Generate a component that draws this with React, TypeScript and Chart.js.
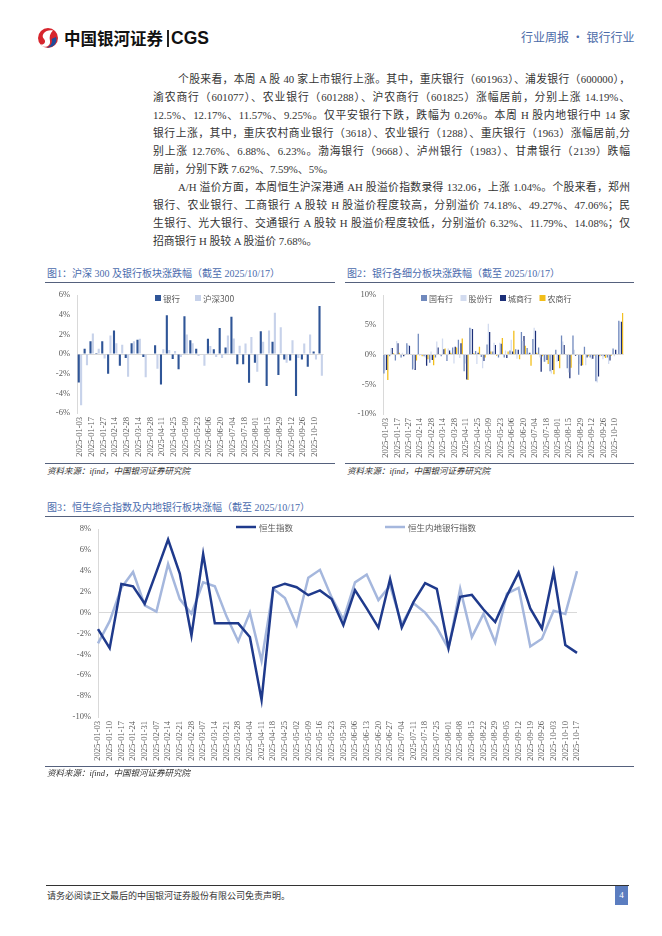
import React, { useEffect, useRef } from "react";
import { Chart, registerables } from "chart.js";

Chart.register(...registerables);

// ---------- data ----------
const aShareWeeks = [
  "2025-01-03", "2025-01-10", "2025-01-17", "2025-01-24", "2025-01-27", "2025-02-07", "2025-02-14",
  "2025-02-21", "2025-02-28", "2025-03-07", "2025-03-14", "2025-03-21", "2025-03-28", "2025-04-03",
  "2025-04-11", "2025-04-18", "2025-04-25", "2025-04-30", "2025-05-09", "2025-05-16", "2025-05-23",
  "2025-05-30", "2025-06-06", "2025-06-13", "2025-06-20", "2025-06-27", "2025-07-04", "2025-07-11",
  "2025-07-18", "2025-07-25", "2025-08-01", "2025-08-08", "2025-08-15", "2025-08-22", "2025-08-29",
  "2025-09-05", "2025-09-12", "2025-09-19", "2025-09-26", "2025-09-30", "2025-10-10", "2025-10-17",
];

const hkWeeks = [
  "2025-01-03", "2025-01-10", "2025-01-17", "2025-01-24", "2025-01-31", "2025-02-07", "2025-02-14",
  "2025-02-21", "2025-02-28", "2025-03-07", "2025-03-14", "2025-03-21", "2025-03-28", "2025-04-04",
  "2025-04-11", "2025-04-18", "2025-04-25", "2025-05-02", "2025-05-09", "2025-05-16", "2025-05-23",
  "2025-05-30", "2025-06-06", "2025-06-13", "2025-06-20", "2025-06-27", "2025-07-04", "2025-07-11",
  "2025-07-18", "2025-07-25", "2025-08-01", "2025-08-08", "2025-08-15", "2025-08-22", "2025-08-29",
  "2025-09-05", "2025-09-12", "2025-09-19", "2025-09-26", "2025-10-03", "2025-10-10", "2025-10-17",
];

// Fig.1 weekly change, %
const bankWeekly = [
  -2.9, 0.55, 1.3, 0.1, 1.3, -2.0, 2.4, -1.2, -0.4, 1.1, 1.45, -0.3, 0.05, 0.9,
  -3.1, 3.95, -0.5, -1.55, 3.85, 1.4, 0.55, 0.05, 1.55, 0.5, 2.65, 0.66, 3.8, -1.05,
  -1.05, -2.92, -0.89, 2.33, -3.25, 1.25, -2.13, -0.56, -0.66, -4.26, -0.56, -1.28, 0.25, 4.89,
];
const csi300Weekly = [
  -5.2, -1.15, 2.1, 0.55, -0.45, 1.9, 1.1, 0.95, -2.3, 1.3, 1.55, -2.35, -0.05, -1.5,
  0.5, 0.4, 0.3, -0.3, 2.0, 1.1, -0.2, -1.2, 0.82, -0.3, -0.4, 1.9, 1.57, 0.85,
  1.08, 1.74, -1.8, 1.25, 2.4, 4.2, 2.72, -0.89, 1.41, -0.4, 1.08, 2.0, -0.56, -2.2,
];

// Fig.2 weekly change by bank type, %
const stateOwned = [
  -3.2, -0.3, -1.0, -0.5, 1.9, -2.5, 3.5, -0.3, -1.4, -0.5, -0.3, -1.1, 1.2, 2.5,
  -2.8, 4.5, 0.6, -0.4, 1.7, 0.5, -0.5, -0.5, 0.7, 0.9, 3.8, 1.1, 2.6, 1.2,
  -1.2, -2.8, 0.8, 3.2, -2.3, 3.2, -3.4, 1.3, -0.5, -4.5, -0.2, -0.5, 1.0, 5.7,
];
const jointStock = [
  -2.7, 1.0, 2.3, 0.3, 1.6, -2.4, -0.2, -0.5, 0.5, 2.2, 2.7, 1.0, -1.5, -0.6,
  -1.5, 4.4, -1.6, -2.3, 5.2, 2.0, 2.0, 0.7, 2.5, -0.7, 2.3, 0.3, 4.5, -0.5,
  -1.2, -3.2, -1.2, 2.2, -3.0, 0.8, -1.6, -1.8, -0.8, -4.7, -0.8, -1.6, -0.3, 5.5,
];
const cityCommercial = [
  -2.6, 1.1, 1.9, -0.3, 1.5, -2.6, 0.1, -1.9, -0.9, 1.2, 0.9, 0.7, 1.3, 1.9,
  -4.2, 4.3, 0.3, -1.1, 3.8, 1.6, 1.8, -0.6, 0.5, 0.8, 3.1, 0.3, 4.0, -2.9,
  -0.9, -2.6, -1.1, 1.6, -4.0, -0.2, -1.9, -0.5, -0.7, -3.7, -0.3, -1.0, 0.8, 5.5,
];
const ruralCommercial = [
  -4.3, 0.2, 0.3, 0.1, 0.1, -1.0, -0.3, -0.8, -1.8, 0.1, 1.0, 0.3, 1.2, 2.7,
  -4.3, 0.2, 1.3, -0.5, 0.5, -0.2, 2.8, 0.5, 4.0, -0.8, 1.5, -1.9, 0.3, -0.3,
  -1.6, -3.3, -2.3, 0.1, -2.2, 0.1, -1.8, -0.3, -0.2, -0.3, -0.6, -0.2, 0.1, 7.0,
];

// Fig.3 weekly change, %
const hangSeng = [
  -1.58, -3.4, 2.74, 2.52, 0.85, 3.9, 7.0, 3.74, -2.2, 5.6, -1.03, -1.03, -1.03, -2.34,
  -8.36, 2.37, 2.77, 2.43, 1.67, 2.13, 1.3, -1.2, 2.16, 0.4, -1.43, 3.22, -1.43, 1.0,
  2.83, 2.28, -3.4, 1.52, 1.7, 0.3, -0.9, 1.6, 3.83, 0.4, -1.52, 3.89, -3.1, -3.86,
];
const hsMainlandBanks = [
  -2.95, -0.82, 2.37, 3.89, 0.7, 0.1, 4.65, 1.3, -0.1, 2.9, 2.52, -0.36, -2.74, 0.0,
  -4.62, 2.28, 1.4, -1.2, 3.34, 4.1, 1.46, -0.67, 2.9, 3.65, 1.2, 2.58, -1.12, 0.9,
  0.0, -1.43, -3.46, 2.3, -2.34, -0.12, -2.86, 1.82, 2.37, -3.25, -2.5, 0.18, -0.12, 3.98,
];

// ---------- styles ----------
const SERIF = "'Liberation Serif', 'Noto Sans CJK SC', serif";
const CJK = "'Noto Sans CJK SC', 'Liberation Serif', sans-serif";
const TICK = "#595959";
const AXIS = "#d9d9d9";
const TITLE = "#4A6BAD";
const RULE = "#55617d";

const inlineLegend = {
  id: "inlineLegend",
  afterDraw(chart: any, _a: any, opts: any) {
    const ctx = chart.ctx;
    ctx.save();
    ctx.font = opts.font;
    ctx.textBaseline = "middle";
    ctx.textAlign = "left";
    let x = opts.x;
    chart.data.datasets.forEach((ds: any, i: number) => {
      if (opts.xs) x = opts.xs[i];
      const y = opts.y;
      if (opts.kind === "line") {
        ctx.strokeStyle = ds.borderColor;
        ctx.lineWidth = 2.5;
        ctx.beginPath();
        ctx.moveTo(x, y);
        ctx.lineTo(x + opts.symbol, y);
        ctx.stroke();
      } else {
        ctx.fillStyle = ds.backgroundColor;
        ctx.fillRect(x, y - opts.symbol / 2, opts.symbol, opts.symbol);
      }
      x += opts.symbol + opts.textGap;
      ctx.fillStyle = opts.color;
      ctx.fillText(ds.label, x, y + 0.5);
      x += ctx.measureText(ds.label).width + opts.itemGap;
    });
    ctx.restore();
  },
};

function yScale(min: number, max: number, step: number, width: number) {
  return {
    min,
    max,
    ticks: {
      stepSize: step,
      callback: (v: any) => v + "%",
      color: TICK,
      font: { family: SERIF, size: 8.5 },
      padding: 7,
    },
    grid: {
      drawTicks: false,
      color: (c: any) => (c.tick && c.tick.value === 0 ? AXIS : "rgba(0,0,0,0)"),
      lineWidth: 1,
    },
    border: { display: true, color: AXIS },
    afterFit: (s: any) => {
      s.width = width;
    },
  };
}

function xScale(height: number, everyOther: boolean, offset: boolean) {
  return {
    offset,
    grid: { display: false, drawTicks: false },
    border: { display: false },
    ticks: {
      autoSkip: false,
      minRotation: 90,
      maxRotation: 90,
      color: TICK,
      font: { family: SERIF, size: 8.5 },
      padding: 4,
      callback: function (this: any, v: any, i: number) {
        if (everyOther && i % 2 !== 0) return "";
        return this.getLabelForValue(v);
      },
    },
    afterFit: (s: any) => {
      s.height = height;
    },
  };
}

function ChartCanvas(props: { left: number; top: number; width: number; height: number; make: () => any }) {
  const ref = useRef<HTMLCanvasElement | null>(null);
  useEffect(() => {
    if (!ref.current) return;
    const chart = new Chart(ref.current, props.make());
    return () => chart.destroy();
  }, []);
  return (
    <canvas
      ref={ref}
      width={props.width}
      height={props.height}
      style={{ position: "absolute", left: props.left, top: props.top, width: props.width, height: props.height }}
    />
  );
}

function makeFig1() {
  return {
    type: "bar",
    data: {
      labels: aShareWeeks,
      datasets: [
        { label: "银行", data: bankWeekly, backgroundColor: "#2F5597" },
        { label: "沪深300", data: csi300Weekly, backgroundColor: "#C7D2EA" },
      ],
    },
    options: {
      responsive: false,
      animation: false,
      layout: { padding: { top: 8, right: 10, left: 0, bottom: 0 } },
      datasets: { bar: { categoryPercentage: 0.8, barPercentage: 0.9 } },
      scales: { x: xScale(50, true, true), y: yScale(-6, 6, 2, 32) },
      plugins: {
        legend: { display: false },
        tooltip: { enabled: false },
        inlineLegend: { x: 110, y: 15, symbol: 6, textGap: 2, itemGap: 15, font: `8.5px ${CJK}`, color: TICK, kind: "box" },
      },
    },
    plugins: [inlineLegend],
  };
}

function makeFig2() {
  return {
    type: "bar",
    data: {
      labels: aShareWeeks,
      datasets: [
        { label: "国有行", data: stateOwned, backgroundColor: "#7089BD" },
        { label: "股份行", data: jointStock, backgroundColor: "#D2DBEF" },
        { label: "城商行", data: cityCommercial, backgroundColor: "#1C2F78" },
        { label: "农商行", data: ruralCommercial, backgroundColor: "#F2BE1A" },
      ],
    },
    options: {
      responsive: false,
      animation: false,
      layout: { padding: { top: 8, right: 4.5, left: 0, bottom: 0 } },
      datasets: { bar: { categoryPercentage: 0.9, barPercentage: 1.0 } },
      scales: { x: xScale(49, true, true), y: yScale(-10, 10, 5, 38) },
      plugins: {
        legend: { display: false },
        tooltip: { enabled: false },
        inlineLegend: { x: 76, y: 15, symbol: 6, textGap: 2, itemGap: 7.5, font: `8px ${CJK}`, color: TICK, kind: "box" },
      },
    },
    plugins: [inlineLegend],
  };
}

function makeFig3() {
  return {
    type: "line",
    data: {
      labels: hkWeeks,
      datasets: [
        {
          label: "恒生指数",
          data: hangSeng,
          borderColor: "#1F3A8C",
          backgroundColor: "#1F3A8C",
          borderWidth: 2.5,
          pointRadius: 0,
          tension: 0,
        },
        {
          label: "恒生内地银行指数",
          data: hsMainlandBanks,
          borderColor: "#A5B7DD",
          backgroundColor: "#A5B7DD",
          borderWidth: 2.5,
          pointRadius: 0,
          tension: 0,
        },
      ],
    },
    options: {
      responsive: false,
      animation: false,
      layout: { padding: { top: 5, right: 57, left: 0, bottom: 0 } },
      scales: { x: xScale(50, false, false), y: yScale(-10, 8, 2, 53) },
      plugins: {
        legend: { display: false },
        tooltip: { enabled: false },
        inlineLegend: { xs: [191, 340], y: 10, symbol: 20, textGap: 3, itemGap: 0, font: `8.5px ${CJK}`, color: TICK, kind: "line" },
      },
    },
    plugins: [inlineLegend],
  };
}

// ---------- page text ----------
const paragraphLines: { text: string; indent: boolean; last: boolean }[] = [
  { text: "个股来看，本周 A 股 40 家上市银行上涨。其中，重庆银行（601963）、浦发银行（600000），", indent: true, last: false },
  { text: "渝农商行（601077）、农业银行（601288）、沪农商行（601825）涨幅居前，分别上涨 14.19%、", indent: false, last: false },
  { text: "12.5%、12.17%、11.57%、9.25%。仅平安银行下跌，跌幅为 0.26%。本周 H 股内地银行中 14 家", indent: false, last: false },
  { text: "银行上涨，其中，重庆农村商业银行（3618）、农业银行（1288）、重庆银行（1963）涨幅居前,分", indent: false, last: false },
  { text: "别上涨 12.76%、6.88%、6.23%。渤海银行（9668）、泸州银行（1983）、甘肃银行（2139）跌幅", indent: false, last: false },
  { text: "居前，分别下跌 7.62%、7.59%、5%。", indent: false, last: true },
  { text: "A/H 溢价方面，本周恒生沪深港通 AH 股溢价指数录得 132.06，上涨 1.04%。个股来看，郑州", indent: true, last: false },
  { text: "银行、农业银行、工商银行 A 股较 H 股溢价程度较高，分别溢价 74.18%、49.27%、47.06%；民", indent: false, last: false },
  { text: "生银行、光大银行、交通银行 A 股较 H 股溢价程度较低，分别溢价 6.32%、11.79%、14.08%；仅", indent: false, last: false },
  { text: "招商银行 H 股较 A 股溢价 7.68%。", indent: false, last: true },
];

function Abs(props: { style: any; children?: any }) {
  return <div style={{ position: "absolute", ...props.style }}>{props.children}</div>;
}

export default function App() {
  const textLeft = 153;
  const textRight = 630;
  const lineTop = 70;
  const lineH = 18;
  return (
    <div
      style={{
        position: "absolute",
        left: 0,
        top: 0,
        width: 662,
        height: 936,
        background: "#ffffff",
        overflow: "hidden",
        fontFamily: CJK,
        color: "#333",
      }}
    >
      {/* header */}
      <svg style={{ position: "absolute", left: 37, top: 27 }} width="22" height="22" viewBox="0 0 22 22">
        <circle cx="11" cy="11" r="10" fill="#D7262E" />
        <path d="M16 3.5 C 9 2, 3 8, 7 12 C 10 15, 6 19, 3 17 C 6 22, 14 20, 13 14 C 12 10, 13 6, 16 3.5 Z" fill="#ffffff" />
        <path d="M14.5 12 C 16 15, 14 19, 10 20.5 C 16 21, 21 16, 19 10 Z" fill="#1E4C9A" />
      </svg>
      <Abs style={{ left: 64, top: 27, fontSize: 16.5, fontWeight: 700, color: "#111", fontFamily: CJK, lineHeight: "22px", letterSpacing: 0 }}>
        中国银河证券
      </Abs>
      <Abs style={{ left: 167, top: 30, width: 1.5, height: 17, background: "#222" }} />
      <Abs style={{ left: 171, top: 26, fontSize: 17.5, fontWeight: 700, color: "#111", fontFamily: "'Liberation Sans', Arial, sans-serif", lineHeight: "24px" }}>
        CGS
      </Abs>
      <Abs style={{ left: 521, top: 29, fontSize: 12, color: "#4A6AA8", fontFamily: CJK, lineHeight: "16px", whiteSpace: "nowrap" }}>
        行业周报 · 银行行业
      </Abs>

      {/* paragraphs */}
      {paragraphLines.map((ln, i) => (
        <Abs
          key={i}
          style={{
            left: ln.indent ? textLeft + 25 : textLeft,
            top: lineTop + i * lineH,
            width: ln.last ? 480 : textRight - (ln.indent ? textLeft + 25 : textLeft),
            fontSize: 10.8,
            lineHeight: lineH + "px",
            fontFamily: SERIF,
            color: "#333",
            textAlign: "justify",
            textAlignLast: ln.last ? "left" : "justify",
            whiteSpace: ln.last ? "nowrap" : "normal",
          }}
        >
          {ln.text}
        </Abs>
      ))}

      {/* figure 1 & 2 headers */}
      <Abs style={{ left: 47, top: 267, fontSize: 10, color: TITLE, lineHeight: "14px", whiteSpace: "nowrap", fontFamily: SERIF }}>
        图1：沪深 300 及银行板块涨跌幅（截至 2025/10/17）
      </Abs>
      <Abs style={{ left: 45, top: 282, width: 290, height: 1, background: RULE }} />
      <Abs style={{ left: 347, top: 267, fontSize: 10, color: TITLE, lineHeight: "14px", whiteSpace: "nowrap", fontFamily: SERIF }}>
        图2：银行各细分板块涨跌幅（截至 2025/10/17）
      </Abs>
      <Abs style={{ left: 345, top: 282, width: 289, height: 1, background: RULE }} />

      <ChartCanvas left={45} top={283} width={290} height={180} make={makeFig1} />
      <ChartCanvas left={345} top={283} width={290} height={180} make={makeFig2} />

      <Abs style={{ left: 45, top: 463, width: 290, height: 1, background: RULE }} />
      <Abs style={{ left: 345, top: 463, width: 289, height: 1, background: RULE }} />
      <Abs style={{ left: 47, top: 465, fontSize: 8.5, fontStyle: "italic", color: "#333", lineHeight: "12px", whiteSpace: "nowrap", fontFamily: SERIF }}>
        资料来源：ifind，中国银河证券研究院
      </Abs>
      <Abs style={{ left: 347, top: 465, fontSize: 8.5, fontStyle: "italic", color: "#333", lineHeight: "12px", whiteSpace: "nowrap", fontFamily: SERIF }}>
        资料来源：ifind，中国银河证券研究院
      </Abs>

      {/* figure 3 */}
      <Abs style={{ left: 47, top: 501, fontSize: 10, color: TITLE, lineHeight: "14px", whiteSpace: "nowrap", fontFamily: SERIF }}>
        图3：恒生综合指数及内地银行板块涨幅（截至 2025/10/17）
      </Abs>
      <Abs style={{ left: 45, top: 516, width: 589, height: 1, background: RULE }} />
      <ChartCanvas left={45} top={517} width={589} height={250} make={makeFig3} />
      <Abs style={{ left: 45, top: 766, width: 589, height: 1, background: RULE }} />
      <Abs style={{ left: 47, top: 767, fontSize: 8.5, fontStyle: "italic", color: "#333", lineHeight: "12px", whiteSpace: "nowrap", fontFamily: SERIF }}>
        资料来源：ifind，中国银河证券研究院
      </Abs>

      {/* footer */}
      <Abs style={{ left: 46, top: 885, width: 583, height: 1, background: "#333" }} />
      <Abs style={{ left: 47, top: 890, fontSize: 9, color: "#333", lineHeight: "13px", whiteSpace: "nowrap", fontFamily: SERIF }}>
        请务必阅读正文最后的中国银河证券股份有限公司免责声明。
      </Abs>
      <Abs
        style={{
          left: 615,
          top: 886,
          width: 13,
          height: 19,
          background: "#5B7DC0",
          color: "#fff",
          fontSize: 9,
          lineHeight: "19px",
          textAlign: "center",
          fontFamily: SERIF,
        }}
      >
        4
      </Abs>
    </div>
  );
}
